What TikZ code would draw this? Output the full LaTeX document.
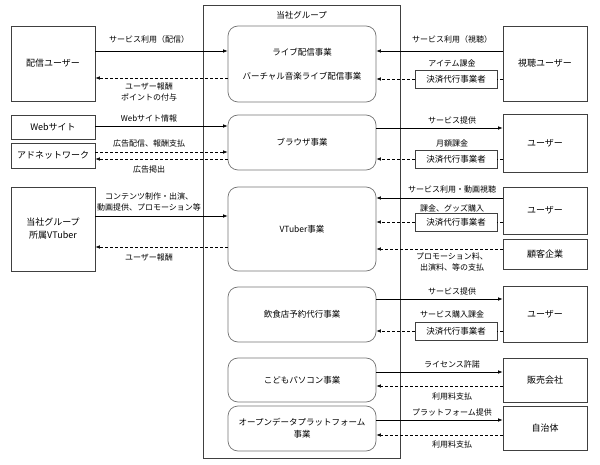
\documentclass[tikz,border=0pt]{standalone}
\usepackage{fontspec}
\setmainfont{Noto Sans CJK JP}
\usetikzlibrary{arrows.meta,positioning,calc}

\tikzset{
  party/.style={draw=black!75, line width=0.7pt, minimum width=84pt, inner sep=1pt, align=center, font=\fontsize{9}{13}\selectfont},
  biz/.style={draw=black!55, line width=0.7pt, rounded corners=10pt, minimum width=148pt, inner sep=1pt, align=center, font=\fontsize{8.5}{12}\selectfont},
  agent/.style={draw=black!75, line width=0.7pt, minimum width=82pt, minimum height=18pt, inner sep=0pt, font=\fontsize{8.5}{10}\selectfont},
  lbl/.style={inner sep=0pt, align=center, font=\fontsize{8}{10.5}\selectfont},
  flow/.style={-{Latex[length=4.5pt,width=3.5pt]}, line width=0.6pt},
  pay/.style={flow, dash pattern=on 3pt off 2pt},
  paytail/.style={line width=0.6pt, dash pattern=on 3pt off 2pt}
}

\begin{document}
\begin{tikzpicture}[x=1pt,y=-1pt]
  \useasboundingbox (0,0) rectangle (600,465);

  % group frame
  \node[draw=black!75, line width=0.7pt, minimum width=197pt, minimum height=453pt] (grp) at (301.5,231.5) {};
  \node[lbl, font=\fontsize{8.5}{10}\selectfont] (grpt) at (301.5,15) {当社グループ};

  % businesses
  \node[biz, minimum height=76pt] (b1) at (302,64) {ライブ配信事業\\[12pt]バーチャル音楽ライブ配信事業};
  \node[biz, minimum height=55pt] (b2) at (302,142.5) {ブラウザ事業};
  \node[biz, minimum height=84pt] (b3) at (302,229) {VTuber事業};
  \node[biz, minimum height=55pt] (b4) at (302,314.5) {飲食店予約代行事業};
  \node[biz, minimum height=44pt] (b5) at (302,380) {こどもパソコン事業};
  \node[biz, minimum height=45pt] (b6) at (302,428.5) {オープンデータプラットフォーム\\事業};

  % left side
  \node[party, minimum height=75pt] (l1) at (53,63.5) {配信ユーザー};
  \node[party, minimum height=24pt] (l2) at (53,127) {Webサイト};
  \node[party, minimum height=25pt] (l3) at (53,155.5) {アドネットワーク};
  \node[party, minimum height=84pt] (l4) at (53,229) {当社グループ\\所属VTuber};

  % right side
  \node[party, minimum height=75pt] (r1) at (545,63.5) {視聴ユーザー};
  \node[party, minimum height=58pt] (r2) at (545,143) {ユーザー};
  \node[party, minimum height=47pt] (r3) at (545,210.5) {ユーザー};
  \node[party, minimum height=30pt] (r4) at (545,254) {顧客企業};
  \node[party, minimum height=56pt] (r5) at (545,314) {ユーザー};
  \node[party, minimum height=44pt] (r6) at (545,380) {販売会社};
  \node[party, minimum height=44pt] (r7) at (545,428) {自治体};

  % payment agents
  \node[agent] (a1) at (456,79) {決済代行事業者};
  \node[agent] (a2) at (456,159) {決済代行事業者};
  \node[agent] (a3) at (456,222) {決済代行事業者};
  \node[agent] (a4) at (456,331) {決済代行事業者};

  % live streaming
  \draw[flow] (l1.east |- 0,51) -- (b1.west |- 0,51);
  \draw[pay] (b1.west |- 0,78) -- (l1.east |- 0,78);
  \node[lbl] (t1) at (149,39) {サービス利用（配信）};
  \node[lbl] (t2) at (149,92) {ユーザー報酬\\ポイントの付与};
  \draw[flow] (r1.west |- 0,51) -- (b1.east |- 0,51);
  \draw[paytail] (r1.west |- a1) -- (a1.east);
  \draw[pay] (a1) -- (b1.east |- a1);
  \node[lbl] (t3) at (452,39) {サービス利用（視聴）};
  \node[lbl] (t4) at (452,63) {アイテム課金};

  % browser
  \draw[flow] (l2.east |- 0,126) -- (b2.west |- 0,126);
  \draw[pay] (l3.east |- 0,152) -- (b2.west |- 0,152);
  \draw[pay] (b2.west |- 0,159) -- (l3.east |- 0,159);
  \node[lbl] (t5) at (149,118) {Webサイト情報};
  \node[lbl] (t6) at (149,143) {広告配信、報酬支払};
  \node[lbl] (t7) at (149,169) {広告掲出};
  \draw[flow] (b2.east |- 0,128) -- (r2.west |- 0,128);
  \draw[paytail] (r2.west |- a2) -- (a2.east);
  \draw[pay] (a2) -- (b2.east |- a2);
  \node[lbl] (t8) at (452,120) {サービス提供};
  \node[lbl] (t9) at (452,143) {月額課金};

  % VTuber
  \draw[flow] (l4.east |- 0,216) -- (b3.west |- 0,216);
  \draw[pay] (b3.west |- 0,247) -- (l4.east |- 0,247);
  \node[lbl] (t10) at (149,202) {コンテンツ制作・出演、\\動画提供、プロモーション等};
  \node[lbl] (t11) at (149,257) {ユーザー報酬};
  \draw[flow] (r3.west |- 0,198) -- (b3.east |- 0,198);
  \draw[paytail] (r3.west |- a3) -- (a3.east);
  \draw[pay] (a3) -- (b3.east |- a3);
  \draw[pay] (r4.west |- 0,249) -- (b3.east |- 0,249);
  \node[lbl] (t12) at (452,189) {サービス利用・動画視聴};
  \node[lbl] (t13) at (452,208) {課金、グッズ購入};
  \node[lbl] (t14) at (452,262) {プロモーション料、\\出演料、等の支払};

  % restaurant booking
  \draw[flow] (b4.east |- 0,299) -- (r5.west |- 0,299);
  \draw[paytail] (r5.west |- a4) -- (a4.east);
  \draw[pay] (a4) -- (b4.east |- a4);
  \node[lbl] (t15) at (452,291) {サービス提供};
  \node[lbl] (t16) at (452,314) {サービス購入課金};

  % kids PC
  \draw[flow] (b5.east |- 0,372) -- (r6.west |- 0,372);
  \draw[pay] (r6.west |- 0,386) -- (b5.east |- 0,386);
  \node[lbl] (t17) at (452,364) {ライセンス許諾};
  \node[lbl] (t18) at (452,396) {利用料支払};

  % open data
  \draw[flow] (b6.east |- 0,420) -- (r7.west |- 0,420);
  \draw[pay] (r7.west |- 0,435) -- (b6.east |- 0,435);
  \node[lbl] (t19) at (452,412) {プラットフォーム提供};
  \node[lbl] (t20) at (452,444) {利用料支払};
\end{tikzpicture}
\end{document}
